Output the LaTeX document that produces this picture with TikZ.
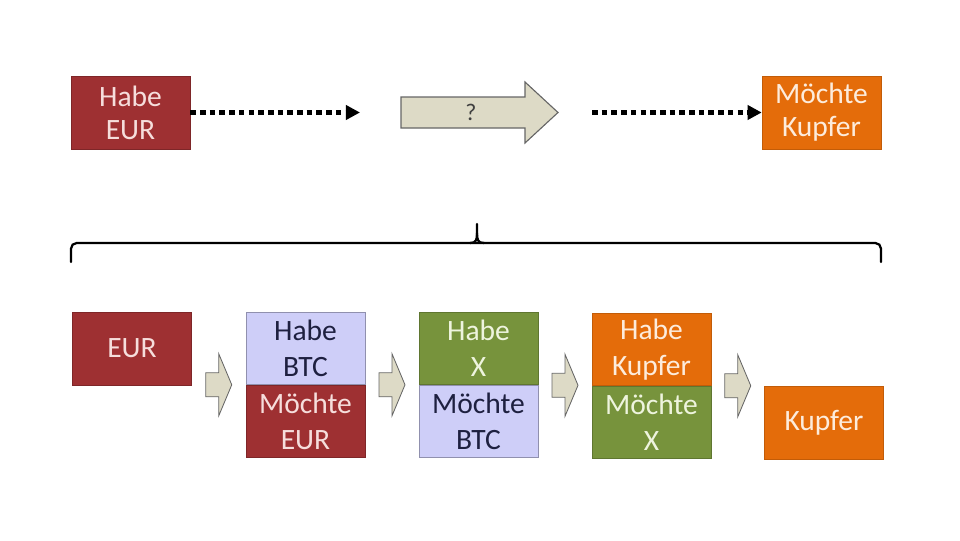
\documentclass[tikz,border=0pt]{standalone}
\usepackage{fontspec}
\setmainfont{Carlito}
\usepackage{xcolor}
\usetikzlibrary{arrows.meta,calc,positioning}

\definecolor{eurred}{RGB}{158,48,50}
\definecolor{redtext}{RGB}{246,222,220}
\definecolor{lav}{RGB}{206,206,248}
\definecolor{lavtext}{RGB}{30,32,64}
\definecolor{grn}{RGB}{119,147,60}
\definecolor{grntext}{RGB}{238,244,222}
\definecolor{org}{RGB}{228,108,10}
\definecolor{orgtext}{RGB}{253,236,220}
\definecolor{arrowfill}{RGB}{221,218,198}

\tikzset{
  box/.style={minimum width=2.975cm, minimum height=1.825cm, inner sep=0pt, align=center,
              font=\fontsize{21}{23.5}\selectfont},
  halfbox/.style={box, minimum height=1.8cm, font=\fontsize{21}{25.5}\selectfont},
  redfill/.style={fill=eurred, draw=eurred!80!black, text=redtext},
  lavfill/.style={fill=lav, draw=lav!70!black, text=lavtext},
  grnfill/.style={fill=grn, draw=grn!80!black, text=grntext},
  orgfill/.style={fill=org, draw=org!85!black, text=orgtext},
  dotline/.style={line width=3.2pt, dash pattern=on 4pt off 2.9pt,
                  -{Triangle[length=10pt,width=10pt]}},
  bigarrow/.style={fill=arrowfill, draw=black!60, line width=0.8pt},
  bracket/.style={line width=1.6pt, line cap=round},
  pics/steparrow/.style={code={
    \draw[bigarrow, line width=0.6pt] (-13,-12) -- (0,-12) -- (0,-31) -- (13,0) -- (0,31) -- (0,12) -- (-13,12) -- cycle;}},
}

\begin{document}
\begin{tikzpicture}[x=0.025cm,y=-0.025cm]
\useasboundingbox (0,0) rectangle (960,540);

% top row: what we have, what we want
\node[box, redfill] (habe) at (130.5,112.5) {Habe\\EUR};
\node[box, orgfill] (moechte) at (821.5,112.5) {Möchte\\Kupfer};
\coordinate (dotend) at (360,112.5);
\coordinate (dotstart) at (592,112.5);
\draw[dotline] (habe) -- (dotend);
\draw[dotline] (dotstart) -- (moechte);

\draw[bigarrow] (401,97) -- (525,97) -- (525,82) -- (558,112.5) -- (525,143) -- (525,128) -- (401,128) -- cycle;
\node[font=\fontsize{17}{20}\selectfont, text=black!75] (frage) at (471,112.5) {?};

% bracket
\draw[bracket, rounded corners=4pt] (71,262) -- (71,243) -- (881,243) -- (881,262);
\draw[bracket] (470,243) .. controls (476,243) and (477,240) .. (477,233) -- (477,224);
\draw[bracket] (484,243) .. controls (478,243) and (477,240) .. (477,233);

% bottom row: the chain of trades
\node[box, redfill] (eur) at (132,348.5) {EUR};

\node[halfbox, lavfill] (btchabe) at (305.5,348.5) {Habe\\BTC};
\node[halfbox, redfill, below=0pt of btchabe] (btcwill) {Möchte\\EUR};

\node[halfbox, grnfill] (xhabe) at (478.5,348.5) {Habe\\X};
\node[halfbox, lavfill, below=0pt of xhabe] (xwill) {Möchte\\BTC};

\node[halfbox, orgfill] (cuhabe) at (651.5,349.5) {Habe\\Kupfer};
\node[halfbox, grnfill, below=0pt of cuhabe] (cuwill) {Möchte\\X};

\node[box, orgfill] (kupfer) at (824,423) {Kupfer};

\pic at ($(eur.east |- btchabe.south)!0.5!(btchabe.south west)$) {steparrow};
\pic at ($(btchabe.south east)!0.5!(xhabe.south west)$) {steparrow};
\pic at ($(xhabe.south east)!0.5!(cuhabe.south west)$) {steparrow};
\pic at ($(cuhabe.south east)!0.5!(kupfer.west |- cuhabe.south)$) {steparrow};
\end{tikzpicture}
\end{document}
